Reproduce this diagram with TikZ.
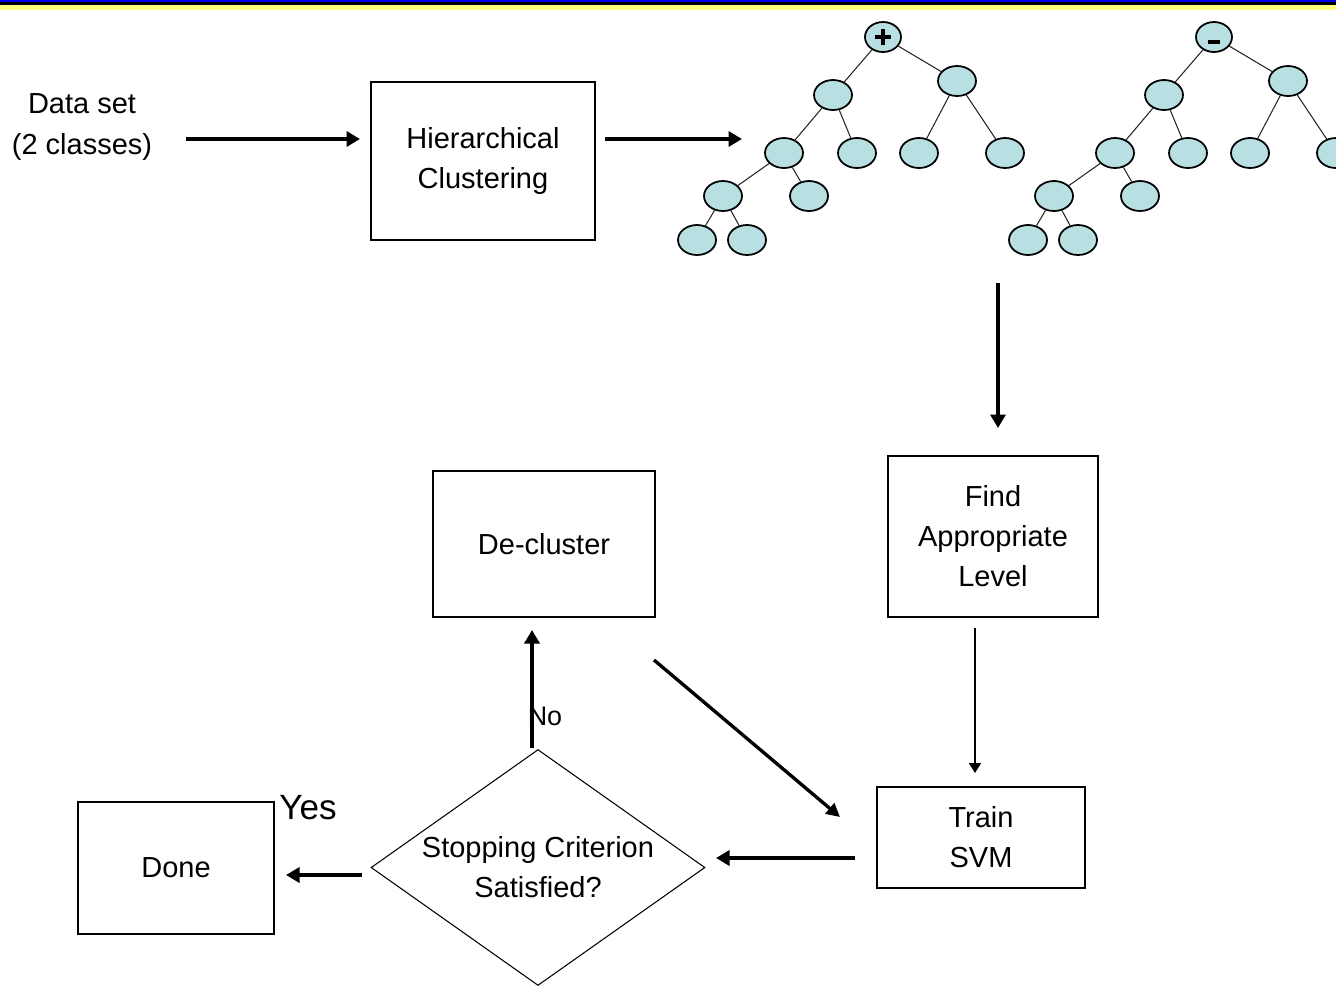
\documentclass[tikz,border=0pt]{standalone}
\usepackage{fontspec}
\setmainfont{Liberation Sans}
\usetikzlibrary{arrows.meta,shapes.geometric}

\definecolor{leaffill}{RGB}{184,223,226}
\definecolor{barblue}{RGB}{0,0,240}
\definecolor{baryellow}{RGB}{255,255,128}

\tikzset{
  lbl/.style={font=\fontsize{16.5}{22.8}\selectfont, align=center, inner sep=0pt},
  box/.style={lbl, draw=black, line width=0.85pt},
  tnode/.style={ellipse, draw=black, line width=1pt, fill=leaffill,
                minimum width=0.76cm, minimum height=0.6cm, inner sep=0pt},
  tedge/.style={draw=black!85, line width=0.6pt},
  thick arrow/.style={line width=2.2pt, -{Triangle[length=0.27cm,width=0.3cm]}},
  thin arrow/.style={line width=1.1pt, -{Triangle[length=0.2cm,width=0.24cm]}},
}

% One binary cluster tree; #1 = name prefix, #2 = horizontal offset
\newcommand\clustertree[2]{%
  \node[tnode, minimum width=0.72cm] (#1r) at ({#2+883},37) {};
  \node[tnode] (#1a) at ({#2+833},95)  {};
  \node[tnode] (#1b) at ({#2+957},81)  {};
  \node[tnode] (#1c) at ({#2+784},153) {};
  \node[tnode] (#1d) at ({#2+857},153) {};
  \node[tnode] (#1e) at ({#2+919},153) {};
  \node[tnode] (#1f) at ({#2+1005},153) {};
  \node[tnode] (#1g) at ({#2+723},196) {};
  \node[tnode] (#1h) at ({#2+809},196) {};
  \node[tnode] (#1i) at ({#2+697},240) {};
  \node[tnode] (#1j) at ({#2+747},240) {};
  \path[tedge] (#1r) -- (#1a) (#1r) -- (#1b)
               (#1a) -- (#1c) (#1a) -- (#1d)
               (#1b) -- (#1e) (#1b) -- (#1f)
               (#1c) -- (#1g) (#1c) -- (#1h)
               (#1g) -- (#1i) (#1g) -- (#1j);
}

\begin{document}
\begin{tikzpicture}[x=0.02cm, y=-0.02cm]
  \useasboundingbox (0,0) rectangle (1336,988);
  \clip (0,0) rectangle (1336,988);

  % title rule at the top edge
  \fill[barblue]   (0,0) rectangle (1336,2);
  \fill[black]     (0,2) rectangle (1336,5);
  \fill[baryellow] (0,5) rectangle (1336,10);

  % input and clustering
  \node[lbl] (data) at (82,127) {Data set\\(2 classes)};
  \node[box, minimum width=4.48cm, minimum height=3.16cm] (hier) at (483,161)
       {Hierarchical\\Clustering};

  % cluster trees for the two classes, with their class marks
  \clustertree{p}{0}
  \clustertree{m}{331}
  \draw[line width=2.2pt, shift={(pr)}] (-8,0) -- (8,0) (0,-8) -- (0,8);
  \fill[black, shift={(mr)}] (-6,3) rectangle (6,7);

  % process boxes
  \node[box, minimum width=4.2cm, minimum height=3.22cm] (find) at (993,536.5)
       {Find\\Appropriate\\Level};
  \node[box, minimum width=4.16cm, minimum height=2.02cm] (svm) at (981,837.5)
       {Train\\SVM};
  \node[box, minimum width=4.44cm, minimum height=2.92cm] (declus) at (544,544)
       {De-cluster};
  \node[box, minimum width=3.92cm, minimum height=2.64cm] (done) at (176,868)
       {Done};
  \node[diamond, draw=black, line width=0.6pt, lbl, shape aspect=1.415,
        minimum width=6.68cm, minimum height=4.72cm] (stop) at (538,867.5)
       {Stopping Criterion\\Satisfied?};

  % arrow end points
  \coordinate (d1) at (186,139);  \coordinate (h1) at (360,139);
  \coordinate (h2) at (605,139);  \coordinate (t1) at (742,139);
  \coordinate (t2) at (998,283);  \coordinate (f1) at (998,428);
  \coordinate (f2) at (975,628);  \coordinate (s1) at (975,773);
  \coordinate (s2) at (855,858);  \coordinate (c1) at (716,858);
  \coordinate (c2) at (362,875);  \coordinate (o1) at (286,875);
  \coordinate (c3) at (532,748);  \coordinate (e1) at (532,630);
  \coordinate (e2) at (654,660);  \coordinate (s3) at (840,817);

  \draw[thick arrow] (d1) -- (h1);
  \draw[thick arrow] (h2) -- (t1);
  \draw[thick arrow] (t2) -- (f1);
  \draw[thin arrow]  (f2) -- (s1);
  \draw[thick arrow] (s2) -- (c1);
  \draw[thick arrow] (c2) -- (o1);
  \draw[thick arrow] (c3) -- (e1);
  \draw[line width=1.9pt, -{Triangle[length=0.27cm,width=0.27cm]}] (e2) -- (s3);

  % branch labels
  \node[lbl, font=\fontsize{15.3}{18}\selectfont] (no) at (545,716) {No};
  \node[lbl, font=\fontsize{20}{24}\selectfont] (yes) at (308,808) {Yes};
\end{tikzpicture}
\end{document}
